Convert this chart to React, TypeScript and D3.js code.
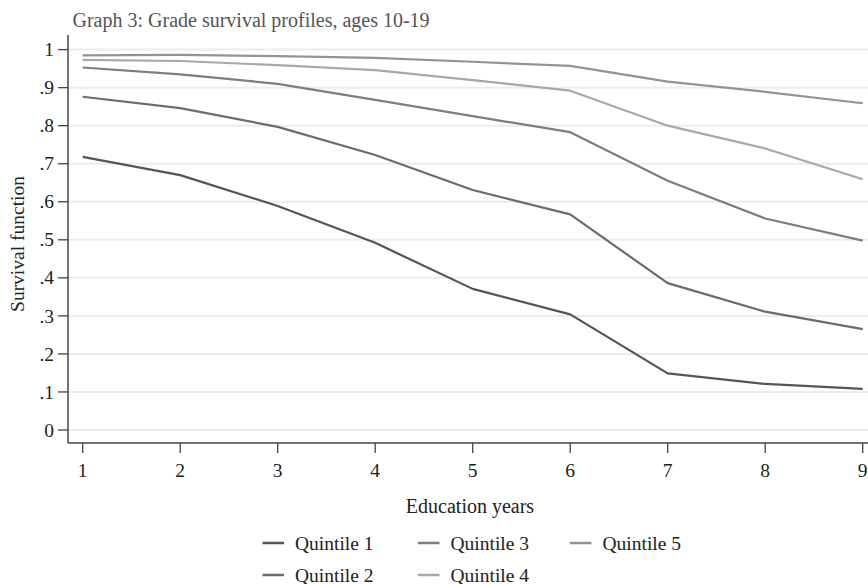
import React from "react";
import * as d3 from "d3";

const years = [1, 2, 3, 4, 5, 6, 7, 8, 9];
const quintile1 = [0.718, 0.670, 0.589, 0.492, 0.371, 0.304, 0.149, 0.121, 0.108];
const quintile2 = [0.876, 0.846, 0.797, 0.723, 0.631, 0.567, 0.386, 0.311, 0.265];
const quintile3 = [0.953, 0.935, 0.910, 0.868, 0.825, 0.783, 0.655, 0.556, 0.498];
const quintile4 = [0.973, 0.970, 0.959, 0.946, 0.920, 0.892, 0.800, 0.740, 0.659];
const quintile5 = [0.985, 0.986, 0.983, 0.978, 0.968, 0.957, 0.916, 0.889, 0.859];
const seriesNames = ["Quintile 1", "Quintile 2", "Quintile 3", "Quintile 4", "Quintile 5"];
const seriesColors = ["#555555", "#6c6c6c", "#7e7e7e", "#a8a8a8", "#939393"];
const yTicks = [0, 0.1, 0.2, 0.3, 0.4, 0.5, 0.6, 0.7, 0.8, 0.9, 1];

const W = 868;
const H = 584;
const FONT = "'Liberation Serif', 'Times New Roman', serif";

export default function App() {
  const allSeries = [quintile1, quintile2, quintile3, quintile4, quintile5];

  const x = d3.scaleLinear().domain([1, 9]).range([82.7, 862.7]);
  const y = d3.scaleLinear().domain([0, 1]).range([430, 49.6]);

  const plotLeft = 68;
  const plotRight = 868;
  const plotTop = 35;
  const plotBottom = 443;

  const line = d3
    .line<number>()
    .x((_, i) => x(years[i]))
    .y((d) => y(d));

  const fmt = (v: number) => (v === 0 ? "0" : v === 1 ? "1" : d3.format(".1f")(v).replace(/^0/, ""));

  // Legend layout: three columns, filled down then across
  const legendCols = [262.5, 418, 570];
  const legendRows = [543, 575];
  const legendItems = seriesNames.map((name, i) => ({
    name,
    color: seriesColors[i],
    col: Math.floor(i / 2),
    row: i % 2,
  }));

  return (
    <svg
      width={W}
      height={H}
      style={{ position: "absolute", left: 0, top: 0, background: "#fff" }}
      fontFamily={FONT}
    >
      <rect width={W} height={H} fill="#fff" />

      {/* gridlines */}
      {yTicks.map((t) => (
        <line
          key={"g" + t}
          x1={plotLeft}
          x2={plotRight}
          y1={y(t)}
          y2={y(t)}
          stroke="#ececec"
          strokeWidth={2}
        />
      ))}

      {/* series */}
      {allSeries.map((s, i) => (
        <path
          key={"s" + i}
          d={line(s) || ""}
          fill="none"
          stroke={seriesColors[i]}
          strokeWidth={2.2}
          strokeLinejoin="round"
        />
      ))}

      {/* y axis */}
      <line x1={plotLeft} x2={plotLeft} y1={plotTop} y2={plotBottom} stroke="#444" strokeWidth={1.5} />
      {yTicks.map((t) => (
        <g key={"yt" + t}>
          <line x1={plotLeft - 10} x2={plotLeft} y1={y(t)} y2={y(t)} stroke="#444" strokeWidth={1.3} />
          <text
            x={plotLeft - 14}
            y={y(t)}
            dy="0.34em"
            textAnchor="end"
            fontSize={19.5}
            fill="#222"
          >
            {fmt(t)}
          </text>
        </g>
      ))}

      {/* x axis */}
      <line x1={plotLeft} x2={plotRight} y1={plotBottom} y2={plotBottom} stroke="#444" strokeWidth={1.5} />
      {years.map((t) => (
        <g key={"xt" + t}>
          <line x1={x(t)} x2={x(t)} y1={plotBottom} y2={plotBottom + 10} stroke="#444" strokeWidth={1.3} />
          <text x={x(t)} y={476.5} textAnchor="middle" fontSize={19.5} fill="#222">
            {t}
          </text>
        </g>
      ))}

      {/* titles */}
      <text x={72.5} y={27} fontSize={20} fill="#555">
        Graph 3: Grade survival profiles, ages 10-19
      </text>
      <text x={470} y={513} textAnchor="middle" fontSize={20} fill="#222">
        Education years
      </text>
      <text
        transform={`translate(24, ${(plotTop + plotBottom) / 2 + 5}) rotate(-90)`}
        textAnchor="middle"
        fontSize={19.5}
        fill="#222"
      >
        Survival function
      </text>

      {/* legend */}
      {legendItems.map((it) => {
        const lx = legendCols[it.col];
        const ly = legendRows[it.row];
        return (
          <g key={it.name}>
            <line x1={lx} x2={lx + 21.5} y1={ly} y2={ly} stroke={it.color} strokeWidth={2.5} />
            <text x={lx + 32.5} y={ly + 6.5} fontSize={19.5} fill="#222">
              {it.name}
            </text>
          </g>
        );
      })}
    </svg>
  );
}
